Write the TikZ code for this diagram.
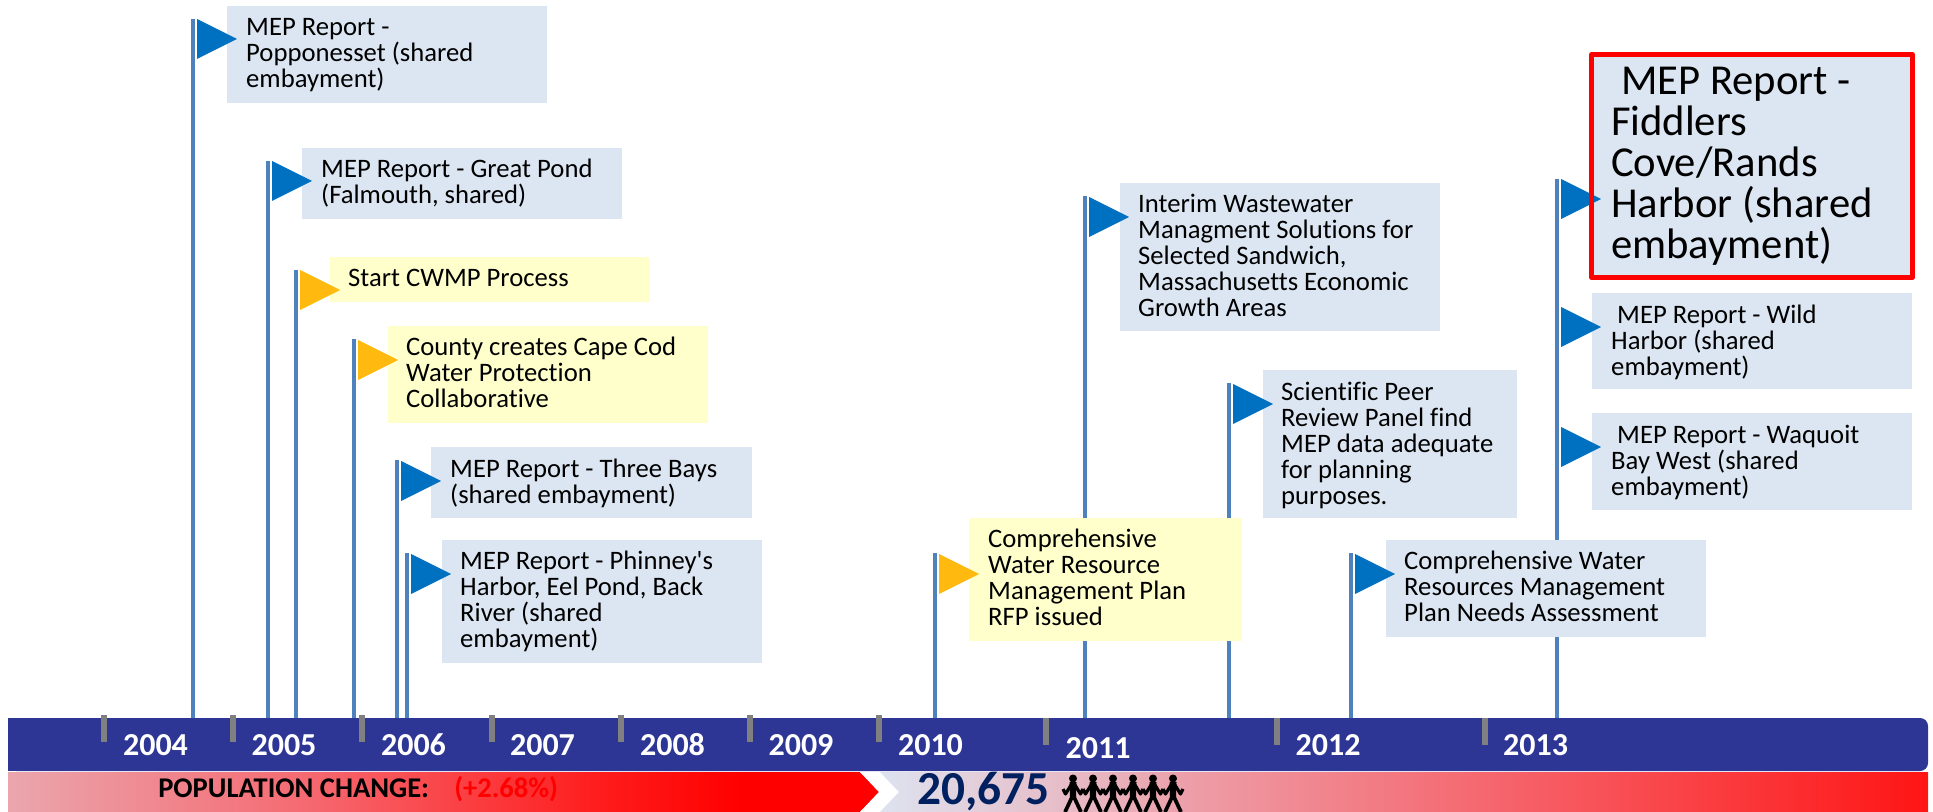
\documentclass[tikz,border=0pt]{standalone}
\usepackage{fontspec}
\setmainfont{Carlito}[Ligatures={TeXOff,NoCommon}]
\usetikzlibrary{fit}
\definecolor{polecol}{HTML}{4F81BD}
\definecolor{flagblue}{HTML}{0070C0}
\definecolor{flagyel}{HTML}{FFB90F}
\definecolor{boxblue}{HTML}{DCE6F2}
\definecolor{boxyel}{HTML}{FFFFCC}
\definecolor{bandcol}{HTML}{2E3695}
\definecolor{tickcol}{HTML}{808080}
\definecolor{navy}{HTML}{002060}
\pgfdeclarehorizontalshading{gradleft}{100bp}{rgb(0bp)=(0.92,0.65,0.68); rgb(25bp)=(0.92,0.65,0.68); rgb(41.7bp)=(0.96,0.42,0.45); rgb(59bp)=(1,0.11,0.11); rgb(67bp)=(1,0,0); rgb(100bp)=(1,0,0)}
\pgfdeclarehorizontalshading{gradright}{100bp}{rgb(0bp)=(0.87,0.89,0.94); rgb(25bp)=(0.87,0.89,0.94); rgb(35.5bp)=(0.91,0.71,0.75); rgb(40.2bp)=(0.93,0.61,0.65); rgb(53.5bp)=(0.96,0.41,0.44); rgb(75bp)=(1,0.08,0.08); rgb(100bp)=(1,0.08,0.08)}
\tikzset{
  x=0.75pt,y=-0.75pt,
  pole/.style={draw=polecol,line width=3pt},
  bluebox/.style={fill=boxblue,inner sep=0pt,outer sep=0pt},
  yelbox/.style={fill=boxyel,inner sep=0pt,outer sep=0pt},
  txt/.style={anchor=north west,inner sep=0pt,outer sep=0pt,align=left,text=black,font=\fontsize{20}{19.6}\selectfont},
  bigtxt/.style={anchor=north west,inner sep=0pt,outer sep=0pt,align=left,text=black,font=\fontsize{32}{30.75}\selectfont},
  yearlab/.style={anchor=base,text=white,inner sep=0pt,font=\fontsize{24}{26}\selectfont\bfseries},
  poplab/.style={anchor=base west,inner sep=0pt,font=\fontsize{21.4}{24}\selectfont\bfseries},
  tickmark/.style={fill=tickcol},
}
\newcommand{\flagat}[3]{\fill[#3] ({#1+4},#2) -- ({#1+4},{#2+40}) -- ({#1+44},{#2+20}) -- cycle;}
\newcommand{\ev}[4]{\node[txt] (#1) at ({#2-0.8},{#3-20.1}) {\rule{0pt}{16pt}#4};}
\begin{document}
\begin{tikzpicture}
\useasboundingbox (0,0) rectangle (1933,812);
% band
\node[fit={(8,718) (1928,771)},inner sep=0pt,outer sep=0pt,fill=bandcol,rounded corners=6pt] (band) {};
\fill[bandcol] (8,718) rectangle (40,771);
% population strip
\path[shading=gradleft] (8,772) -- (860,772) -- (879,792) -- (860,812) -- (8,812) -- cycle;
\fill[white] (860,772) -- (880,772) -- (899,792) -- (880,812) -- (860,812) -- (879,792) -- cycle;
\path[shading=gradright] (880,772) -- (1928,772) -- (1928,812) -- (880,812) -- (899,792) -- cycle;
% poles
\foreach \n/\x/\t in {p1/193/19,p2/268/161,p3/296/270,p4/354/339,p5/397/460,p6/407/553,p7/935/553,p8/1085/196,p9/1229/383,p10/1351/553,p11/1557/179}{
  \coordinate (\n) at (\x,\t);
  \draw[pole] (\n) -- (\n |- band.north);
}
% ticks
\foreach \x in {104,233,362,492,621,750,879}{\fill[tickmark] ({\x-3},715) rectangle ({\x+3},742);}
\foreach \x in {1046,1277,1485}{\fill[tickmark] ({\x-3},718) rectangle ({\x+3},745);}
% boxes
\node[bluebox,fit={(227,6) (547,103)}] (b1) {};
\node[bluebox,fit={(302,148) (622,219)}] (b2) {};
\node[yelbox,fit={(330,257) (650,302)}] (b3) {};
\node[yelbox,fit={(388,326) (708,423)}] (b4) {};
\node[bluebox,fit={(431,447) (752,518)}] (b5) {};
\node[bluebox,fit={(442,540) (762,663)}] (b6) {};
\node[yelbox,fit={(969,518) (1242,641)}] (b7) {};
\node[bluebox,fit={(1120,183) (1440,331)}] (b8) {};
\node[bluebox,fit={(1263,370) (1517,518)}] (b9) {};
\node[bluebox,fit={(1386,540) (1706,637)}] (b10) {};
\node[bluebox,fit={(1591.5,54.5) (1912.5,277.5)}] (b11) {};
\node[bluebox,fit={(1592,293) (1912,389)}] (b12) {};
\node[bluebox,fit={(1592,413) (1912,510)}] (b13) {};
% flags
\flagat{193}{19}{flagblue}
\flagat{268}{161}{flagblue}
\flagat{296}{270}{flagyel}
\flagat{354}{340}{flagyel}
\flagat{397}{461}{flagblue}
\flagat{407}{554}{flagblue}
\flagat{935}{554}{flagyel}
\flagat{1085}{197}{flagblue}
\flagat{1229}{384}{flagblue}
\flagat{1351}{554}{flagblue}
\flagat{1557}{179}{flagblue}
\flagat{1557}{307}{flagblue}
\flagat{1557}{427}{flagblue}
\draw[red,line width=3.5pt,line join=round] (b11.north west) rectangle (b11.south east);
% texts
\ev{t1}{247}{34}{MEP Report -\\Popponesset (shared\\embayment)}
\ev{t2}{322}{176}{MEP Report - Great Pond\\(Falmouth, shared)}
\ev{t3}{349}{285}{Start CWMP Process}
\ev{t4}{407}{354}{County creates Cape Cod\\Water Protection\\Collaborative}
\ev{t5}{451}{476}{MEP Report - Three Bays\\(shared embayment)}
\ev{t6}{461}{568}{MEP Report - Phinney's\\Harbor, Eel Pond, Back\\River (shared\\embayment)}
\ev{t7}{989}{546}{Comprehensive\\Water Resource\\Management Plan\\RFP issued}
\ev{t8}{1139}{211}{Interim Wastewater\\Managment Solutions for\\Selected Sandwich,\\Massachusetts Economic\\Growth Areas}
\ev{t9}{1282}{399}{Scientific Peer\\Review Panel find\\MEP data adequate\\for planning\\purposes.}
\ev{t10}{1405}{568}{Comprehensive Water\\Resources Management\\Plan Needs Assessment}
\ev{t12}{1612}{322}{\hspace*{4.5pt}MEP Report - Wild\\Harbor (shared\\embayment)}
\ev{t13}{1612}{442}{\hspace*{4.5pt}MEP Report - Waquoit\\Bay West (shared\\embayment)}
\node[bigtxt] (t11) at (1611,{94.5-37.33}) {\rule{0pt}{28pt}\hspace*{7.5pt}MEP Report -\\Fiddlers\\Cove/Rands\\Harbor (shared\\embayment)};
% years
\foreach \n/\x/\y in {2004/155.5/755,2005/284/755,2006/413.5/755,2007/542.5/755,2008/672.5/755,2009/801/755,2010/930.5/755,2011/1098/758,2012/1328/755,2013/1535.5/755}{
  \node[yearlab] (y\n) at (\x,\y) {\n};
}
% population
\node[poplab] (pop) at (158,797) {POPULATION CHANGE:};
\node[poplab,text=red] (pct) at (454,797) {(+2.68\%)};
\node[anchor=base west,inner sep=0pt,text=navy,font=\fontsize{35.5}{40}\selectfont\bfseries] (count) at (917.5,804) {20,675};
% people
\foreach \x in {1073,1093,1113,1133,1153,1173}{
  \fill[black] (\x,778.5) circle[radius=4];
  \fill[black] ({\x-3.5},782) -- ({\x+3.5},782) -- ({\x+3},798) -- ({\x-3},798) -- cycle;
  \draw[black,line width=2.8pt] (\x,795) -- ({\x-8},812) (\x,795) -- ({\x+8},812);
  \draw[black,line width=2.4pt,line join=round] ({\x-10},789) -- ({\x-7.5},794) -- ({\x-1},783.5) -- ({\x+1},783.5) -- ({\x+7.5},794) -- ({\x+10},789);
}
\end{tikzpicture}
\end{document}
